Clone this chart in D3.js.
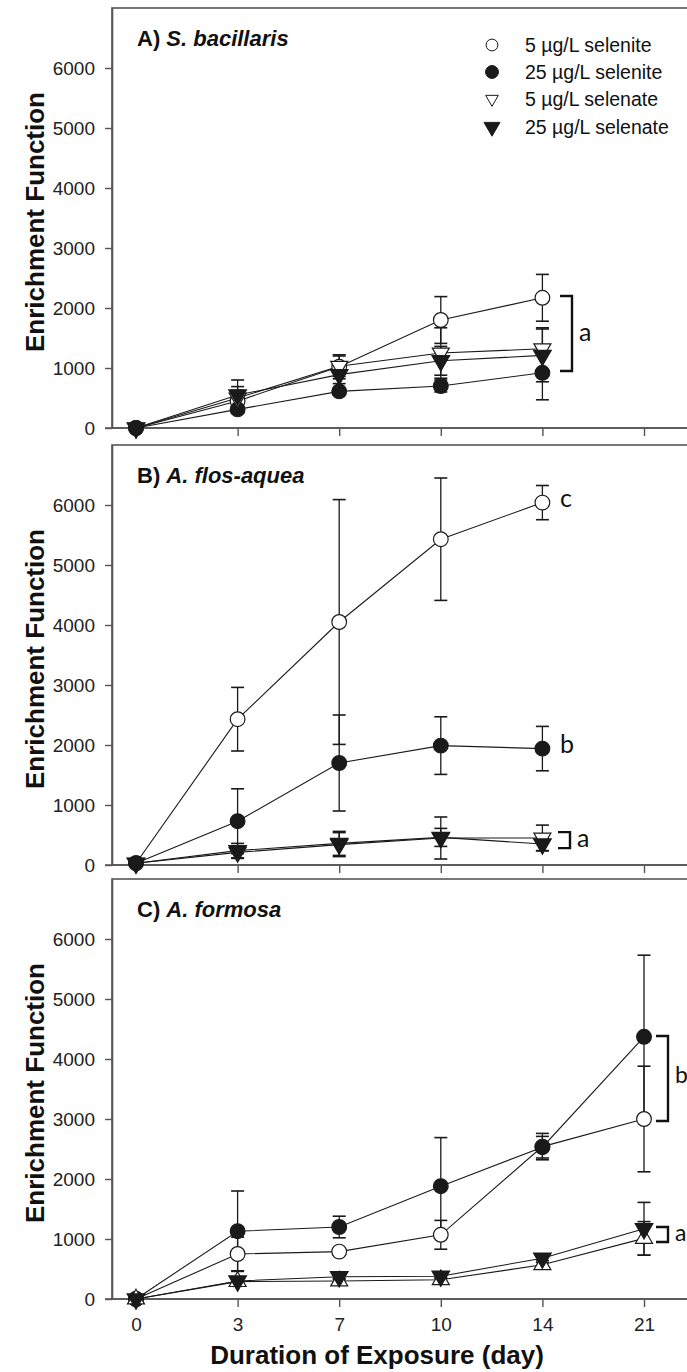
<!DOCTYPE html>
<html>
<head>
<meta charset="utf-8">
<script src="https://cdn.jsdelivr.net/npm/d3@7"></script>
<style>
  html, body { margin: 0; padding: 0; background: #fff; }
  svg { display: block; }
</style>
</head>
<body>
<svg id="chart" width="687" height="1372"></svg>
<script>
// ---------- DATA ----------
const days = ["0", "3", "7", "10", "14", "21"];
const seriesNames = ["5 µg/L selenite", "25 µg/L selenite", "5 µg/L selenate", "25 µg/L selenate"];
const yTicks = [0, 1000, 2000, 3000, 4000, 5000, 6000];

// Panel A: S. bacillaris (days 0-14)
const aSelenite5 = [0, 450, 1020, 1800, 2170];
const aSelenite5Err = [20, 180, 200, 390, 390];
const aSelenite25 = [0, 310, 610, 700, 920];
const aSelenite25Err = [20, 50, 50, 100, 450];
const aSelenate5 = [0, 500, 1030, 1250, 1320];
const aSelenate5Err = [20, 190, 170, 420, 350];
const aSelenate25 = [0, 550, 890, 1120, 1210];
const aSelenate25Err = [20, 250, 150, 240, 440];

// Panel B: A. flos-aquea (days 0-14)
const bSelenite5 = [30, 2430, 4050, 5430, 6040];
const bSelenite5Err = [20, 530, 2040, 1020, 285];
const bSelenite25 = [30, 730, 1700, 1990, 1940];
const bSelenite25Err = [20, 540, 800, 480, 370];
const bSelenate5 = [30, 210, 340, 450, 450];
const bSelenate5Err = [20, 100, 200, 350, 215];
const bSelenate25 = [30, 240, 360, 460, 350];
const bSelenate25Err = [20, 120, 200, 150, 110];

// Panel C: A. formosa (days 0-21)
const cSelenite5 = [0, 750, 790, 1070, 2540, 3000];
const cSelenite5Err = [20, 280, 60, 240, 220, 880];
const cSelenite25 = [0, 1130, 1200, 1880, 2530, 4370];
const cSelenite25Err = [20, 670, 180, 810, 180, 1360];
const cSelenate5 = [0, 290, 300, 320, 570, 1010];
const cSelenate5Err = [20, 50, 40, 40, 40, 280];
const cSelenate25 = [0, 300, 370, 380, 680, 1170];
const cSelenate25Err = [20, 60, 40, 40, 40, 440];

// significance groups: [upper value, lower value, letter, letter value]
const aGroups = [[2200, 950, "a", 1600]];
const bGroups = [[6110, 6110, "c", 6110], [2010, 2010, "b", 2010], [548, 282, "a", 450]];
const cGroups = [[4383, 2967, "b", 3733], [1200, 950, "a", 1100]];

// ---------- LAYOUT ----------
const svg = d3.select("#chart");
const left = 112, frameRight = 705;
const panels = [
  { top: 8, bottom: 428, label: "A) ", species: "S. bacillaris",
    series: [[aSelenite5, aSelenite5Err], [aSelenite25, aSelenite25Err], [aSelenate5, aSelenate5Err], [aSelenate25, aSelenate25Err]],
    groups: aGroups, legend: true, xLabels: false, openUp: false, bx: 560, fs: 25 },
  { top: 445, bottom: 865, label: "B) ", species: "A. flos-aquea",
    series: [[bSelenite5, bSelenite5Err], [bSelenite25, bSelenite25Err], [bSelenate5, bSelenate5Err], [bSelenate25, bSelenate25Err]],
    groups: bGroups, legend: false, xLabels: false, openUp: false, bx: 558, fs: 25 },
  { top: 879, bottom: 1299, label: "C) ", species: "A. formosa",
    series: [[cSelenite5, cSelenite5Err], [cSelenite25, cSelenite25Err], [cSelenate5, cSelenate5Err], [cSelenate25, cSelenate25Err]],
    groups: cGroups, legend: false, xLabels: true, openUp: true, bx: 656, fs: 23 }
];

const x = d3.scalePoint().domain(days).range([136, 644]);
const axisColor = "#555";
const lineColor = "#1a1a1a";

function markerPath(kind) {
  if (kind === 0 || kind === 1) return d3.symbol().type(d3.symbolCircle).size(170)();
  return d3.symbol().type(d3.symbolTriangle).size(kind === 2 ? 125 : 135)();
}
function markerRotation(kind, openUp) {
  if (kind === 2) return openUp ? 0 : 180;
  if (kind === 3) return 180;
  return 0;
}
function markerFill(kind) { return (kind === 1 || kind === 3) ? lineColor : "#fff"; }

panels.forEach(p => {
  const y = d3.scaleLinear().domain([0, 7000]).range([p.bottom, p.top]);
  const g = svg.append("g");

  // frame
  g.append("rect")
    .attr("x", left).attr("y", p.top)
    .attr("width", frameRight - left).attr("height", p.bottom - p.top)
    .attr("fill", "none").attr("stroke", axisColor).attr("stroke-width", 1.6);

  // y axis
  const yAxis = g.append("g").attr("transform", `translate(${left},0)`)
    .call(d3.axisLeft(y).tickValues(yTicks).tickFormat(d3.format("d"))
      .tickSize(7).tickPadding(10).tickSizeOuter(0));
  yAxis.select(".domain").attr("stroke", axisColor).attr("stroke-width", 1.6);
  yAxis.selectAll(".tick line").attr("stroke", axisColor).attr("stroke-width", 1.4);
  yAxis.selectAll(".tick text")
    .attr("font-family", "'Liberation Sans', Arial, sans-serif")
    .attr("font-size", 19).attr("fill", "#222");

  // x axis
  const xAxis = g.append("g").attr("transform", `translate(0,${p.bottom})`)
    .call(d3.axisBottom(x).tickSize(8).tickPadding(11).tickSizeOuter(0));
  xAxis.select(".domain").attr("stroke", axisColor).attr("stroke-width", 1.6)
    .attr("d", `M${left - 7},0H${frameRight}`);
  xAxis.selectAll(".tick line").attr("stroke", axisColor).attr("stroke-width", 1.4);
  xAxis.selectAll(".tick text")
    .attr("font-family", "'Liberation Sans', Arial, sans-serif")
    .attr("font-size", 19).attr("fill", "#222")
    .style("display", p.xLabels ? null : "none");

  // y title
  const cy = (p.top + p.bottom) / 2 + 4;
  g.append("text")
    .attr("transform", `translate(44,${cy}) rotate(-90)`)
    .attr("text-anchor", "middle")
    .attr("font-family", "'Liberation Sans', Arial, sans-serif")
    .attr("font-weight", "bold").attr("font-size", 26).attr("fill", "#111")
    .text("Enrichment Function");

  // panel title
  const t = g.append("text")
    .attr("x", 137).attr("y", p.top + 38)
    .attr("font-family", "'Liberation Sans', Arial, sans-serif")
    .attr("font-weight", "bold").attr("font-size", 22).attr("fill", "#111");
  t.append("tspan").text(p.label);
  t.append("tspan").attr("font-style", "italic").text(p.species);

  // lines
  const line = d3.line().x((d, i) => x(days[i])).y(d => y(d));
  p.series.forEach(([vals]) => {
    g.append("path").datum(vals)
      .attr("d", line).attr("fill", "none")
      .attr("stroke", lineColor).attr("stroke-width", 1.1);
  });

  // error bars
  p.series.forEach(([vals, errs]) => {
    vals.forEach((v, i) => {
      const cx = x(days[i]);
      const hi = y(v + errs[i]), lo = y(Math.max(0, v - errs[i]));
      g.append("line").attr("x1", cx).attr("x2", cx).attr("y1", hi).attr("y2", lo)
        .attr("stroke", lineColor).attr("stroke-width", 1.3);
      [hi, lo].forEach(yy => {
        g.append("line").attr("x1", cx - 6.5).attr("x2", cx + 6.5).attr("y1", yy).attr("y2", yy)
          .attr("stroke", lineColor).attr("stroke-width", 1.6);
      });
    });
  });

  // markers
  p.series.forEach(([vals], k) => {
    vals.forEach((v, i) => {
      g.append("path")
        .attr("d", markerPath(k))
        .attr("transform", `translate(${x(days[i])},${y(v)}) rotate(${markerRotation(k, p.openUp)})`)
        .attr("fill", markerFill(k)).attr("stroke", lineColor).attr("stroke-width", 1.2);
    });
  });

  // significance letters and brackets
  p.groups.forEach(([hiV, loV, letter, letV]) => {
    const bx = p.bx;
    if (hiV !== loV) {
      const y1 = y(hiV), y2 = y(loV);
      g.append("path")
        .attr("d", `M${bx},${y1}H${bx + 12}V${y2}H${bx}`)
        .attr("fill", "none").attr("stroke", "#111").attr("stroke-width", 2.4);
      g.append("text").attr("x", bx + 19).attr("y", y(letV)).attr("dy", "0.35em")
        .attr("font-family", "Lato, 'Open Sans', sans-serif").attr("font-size", p.fs).attr("fill", "#111")
        .text(letter);
    } else {
      g.append("text").attr("x", bx + 2).attr("y", y(letV)).attr("dy", "0.35em")
        .attr("font-family", "Lato, 'Open Sans', sans-serif").attr("font-size", p.fs).attr("fill", "#111")
        .text(letter);
    }
  });

  // legend
  if (p.legend) {
    const rows = [45, 72, 99, 127];
    const sizes = [110, 130, 70, 110];
    seriesNames.forEach((name, k) => {
      const ly = rows[k];
      const sym = (k < 2) ? d3.symbol().type(d3.symbolCircle).size(sizes[k])()
                          : d3.symbol().type(d3.symbolTriangle).size(sizes[k])();
      g.append("path").attr("d", sym)
        .attr("transform", `translate(492,${ly}) rotate(${k >= 2 ? 180 : 0})`)
        .attr("fill", markerFill(k)).attr("stroke", lineColor).attr("stroke-width", 1);
      g.append("text").attr("x", 525).attr("y", ly).attr("dy", "0.35em")
        .attr("font-family", "'Liberation Sans', Arial, sans-serif")
        .attr("font-size", 19.5).attr("fill", "#111")
        .text(name);
    });
  }
});

// x-axis title
svg.append("text")
  .attr("x", 377).attr("y", 1364)
  .attr("text-anchor", "middle")
  .attr("font-family", "'Liberation Sans', Arial, sans-serif")
  .attr("font-weight", "bold").attr("font-size", 26).attr("fill", "#111")
  .text("Duration of Exposure (day)");
</script>
</body>
</html>
